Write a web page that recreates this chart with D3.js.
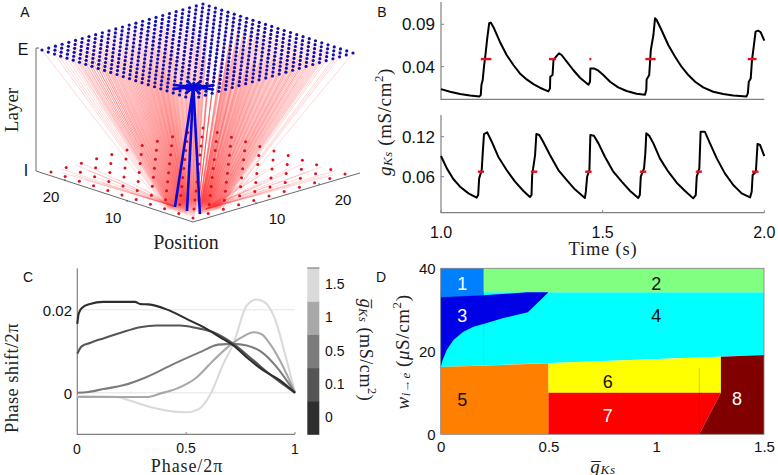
<!DOCTYPE html>
<html><head><meta charset="utf-8">
<script src="https://cdnjs.cloudflare.com/ajax/libs/d3/7.8.5/d3.min.js"></script>
<style>
html,body{margin:0;padding:0;background:#fff}
svg{display:block}
text{font-family:"Liberation Sans",Arial,sans-serif;fill:#111}
.serif{font-family:"Liberation Serif",serif;fill:#222}
</style></head><body>
<svg id="c" width="778" height="475"></svg>
<script>
// ---- Panel A data (lattice indices)
const blueIdx = d3.range(0,25);
const redIdx = d3.range(0,11);
const starOffsets = [[2,-1],[1,-2],[-2,1],[-1,2],[1,-1],[-1,1],[1,1],[-1,-1],[0,1],[0,-1],[1,0],[-1,0],[2,1],[1,2],[-2,-1],[-1,-2]];
const starCell = [3,3];
const thickEnds = [[1.86,.55],[1.0,.54],[.23,.67]];
const redFanLeft = [[10,.7],[10,1.6],[10,2],[9.5,.3],[9,.5],[9,1.5],[8,1],[8,.4],[7,.6],[7,1.5],[6,.8],[6,1.6],[5,.5],[5,1.4],[4,.6],[4,1.5],[3,.7],[3,1.3]];
const redFanRight = [[.7,10],[1.6,10],[2.6,9.8],[3.6,9.4],[.3,9.5],[.5,9],[1.5,9],[2.5,8.6],[1,8],[2,8],[3.2,7.8],[.6,7],[1.5,7],[2.6,6.8],[.8,6],[1.6,6],[2.4,5.6],[.5,5],[1.4,5],[.6,4],[1.5,4],[.7,3],[1.3,3]];
const redTargetLeft = [2,.6], redTargetRight = [.6,1.4];
const layerTicks = ["E","I"];
// ---- Panel B data
const topTrace = [[1,.0136],[1.028,.0105],[1.059,.0077],[1.09,.0061],[1.119,.005],[1.123,.0065],[1.125,.0183],[1.129,.0243],[1.133,.04],[1.138,.0557],[1.143,.0735],[1.149,.0912],[1.154,.092],[1.164,.0853],[1.182,.0695],[1.203,.0538],[1.224,.042],[1.244,.0321],[1.265,.025],[1.286,.0195],[1.306,.0152],[1.332,.0109],[1.337,.0144],[1.338,.0282],[1.345,.0302],[1.348,.0479],[1.356,.0518],[1.365,.0557],[1.373,.0538],[1.389,.0459],[1.409,.0361],[1.43,.027],[1.456,.0187],[1.461,.0223],[1.462,.038],[1.473,.038],[1.487,.0353],[1.502,.0302],[1.523,.0223],[1.548,.0156],[1.574,.0113],[1.605,.0081],[1.631,.0069],[1.635,.0124],[1.636,.025],[1.644,.0302],[1.649,.0597],[1.657,.0774],[1.662,.0971],[1.667,.0951],[1.682,.0833],[1.703,.0656],[1.724,.0518],[1.744,.04],[1.765,.0302],[1.786,.0223],[1.811,.0156],[1.842,.0105],[1.873,.0077],[1.904,.0061],[1.945,.005],[1.949,.0085],[1.952,.0223],[1.958,.0262],[1.962,.0479],[1.968,.0656],[1.973,.0813],[1.981,.0825],[1.989,.0806],[2,.0707]];
const bottomTrace = [[1,.091],[1.018,.0725],[1.038,.0565],[1.059,.045],[1.085,.035],[1.11,.0285],[1.115,.0325],[1.118,.0575],[1.126,.07],[1.129,.095],[1.133,.124],[1.143,.1265],[1.157,.1125],[1.177,.09],[1.203,.07],[1.229,.0525],[1.255,.0385],[1.275,.0295],[1.28,.0325],[1.282,.0625],[1.291,.0925],[1.295,.124],[1.304,.1225],[1.316,.1125],[1.337,.0925],[1.363,.07],[1.389,.055],[1.414,.041],[1.445,.028],[1.448,.0375],[1.452,.06],[1.459,.07],[1.462,.1225],[1.473,.1215],[1.487,.11],[1.507,.09],[1.533,.0675],[1.559,.0525],[1.585,.0385],[1.61,.028],[1.615,.0325],[1.618,.06],[1.628,.0725],[1.632,.095],[1.635,.125],[1.644,.1215],[1.657,.11],[1.677,.0875],[1.703,.0675],[1.729,.051],[1.755,.0385],[1.78,.0275],[1.788,.0325],[1.791,.06],[1.799,.0725],[1.803,.1275],[1.816,.1275],[1.832,.11],[1.853,.0875],[1.878,.065],[1.904,.0475],[1.93,.035],[1.956,.029],[1.961,.0375],[1.964,.0625],[1.974,.0675],[1.979,.109],[1.987,.1075],[2,.091]];
const topBursts = [[1.123,1.156],[1.334,1.356],[1.459,1.465],[1.632,1.664],[1.949,1.976]];
const bottomBursts = [[1.114,1.133],[1.278,1.298],[1.446,1.466],[1.615,1.635],[1.788,1.807],[1.962,1.982]];
const topBurstLevel = .049, bottomBurstLevel = .0675;
const topTicks = [.04,.09], bottomTicks = [.06,.12], timeTicks = [1,1.5,2];
// ---- Panel C data
const prc0 = [[0,.0166],[.006,.019],[.02,.0204],[.058,.0214],[.119,.0219],[.265,.0219],[.288,.0214],[.326,.0213],[.41,.0201],[.502,.0178],[.594,.0154],[.655,.0134],[.717,.0114],[.786,.0082],[.855,.0054],[.931,.003],[1,0]];
const prc01 = [[0,.0094],[.02,.0112],[.058,.012],[.119,.0131],[.196,.0144],[.288,.0158],[.364,.0162],[.472,.0162],[.548,.0156],[.625,.0146],[.717,.0118],[.809,.0078],[.9,.0038],[1,0]];
const prc05 = [[0,0],[.05,.0002],[.119,.0009],[.211,.0018],[.319,.0038],[.441,.0069],[.564,.0098],[.648,.0116],[.717,.0118],[.778,.0114],[.847,.0098],[.916,.0062],[1,0]];
const prc1 = [[0,-.001],[.089,-.001],[.319,-.001],[.38,-.0002],[.456,.001],[.548,.0037],[.625,.0078],[.717,.0121],[.763,.0136],[.809,.0146],[.847,.0141],[.885,.0118],[.931,.0078],[1,0]];
const prc15 = [[0,-.0008],[.181,-.001],[.242,-.0019],[.334,-.0034],[.456,-.0046],[.502,-.0047],[.556,-.004],[.609,-.0006],[.671,.007],[.717,.0118],[.778,.021],[.824,.0225],[.862,.0218],[.908,.0178],[.954,.0094],[1,0]];
const gLevels = ["0","0.1","0.5","1","1.5"];
const gGrays = ["#2e2e2e","#555555","#7c7c7c","#a8a8a8","#dadada"];
// ---- Panel D data
const regions = [
 {id:"4",c:"#00ffff",p:[[0,16.2],[1.5,19.1],[1.5,34.2],[0,34.2]]},
 {id:"1",c:"#0080ff",p:[[0,33],[.2,33],[.2,40],[0,40]]},
 {id:"2",c:"#80ff80",p:[[.2,34.2],[1.5,34.2],[1.5,40],[.2,40]]},
 {id:"3",c:"#0000e6",p:[[0,33],[.2,33.5],[.4,34.2],[.5,34.2],[.404,29.4],[.291,28],[.206,26.7],[.152,25.9],[.105,24.7],[.059,22.7],[.028,20.3],[.009,17.9],[0,16.2]]},
 {id:"5",c:"#ff8000",p:[[0,0],[.5,0],[.5,17.1],[0,16.2]]},
 {id:"6",c:"#ffff00",p:[[.5,10],[1.3,10],[1.3,18.7],[.5,17.1]]},
 {id:"7",c:"#ff0000",p:[[.5,0],[1.2,0],[1.3,10],[.5,10]]},
 {id:"8",c:"#800000",p:[[1.2,0],[1.5,0],[1.5,19.1],[1.3,18.7],[1.3,10]]}
];
const regionLabels = [["1",.1,36.2,"#fff"],["2",1,36.2,"#111"],["3",.1,28.6,"#fff"],["4",1,28.4,"#111"],["5",.1,8.3,"#111"],["6",.775,12.5,"#111"],["7",.775,4.5,"#fff"],["8",1.375,8.5,"#fff"]];
const dXTicks=[0,.5,1,1.5], dYTicks=[0,20,40];

const svg = d3.select("#c");
const AX="#808080";
function label(t,x,y,o={}){ return svg.append("text").attr("x",x).attr("y",y).attr("text-anchor",o.a||"middle").attr("dominant-baseline","central").attr("font-size",o.s||16).text(t); }
function mathLabel(transform,size,parts){
  const t=svg.append("text").attr("class","serif").attr("transform",transform).attr("text-anchor","middle").attr("dominant-baseline","central").attr("font-size",size).attr("letter-spacing",.6);
  parts.forEach(p=>{const s=t.append("tspan").text(p.t);
    if(p.i)s.attr("font-style","italic"); if(p.f)s.attr("font-size",size*p.f); if(p.dy)s.attr("dy",p.dy);});
  return t;
}

// ===== Panel A
const lat=(o,l,r,n)=>(a,b)=>[o[0]+(l[0]-o[0])*a/n+(r[0]-o[0])*b/n, o[1]+(l[1]-o[1])*a/n+(r[1]-o[1])*b/n];
const blueP = lat([192,99],[42,50],[353,53],24);
const redP = lat([193,218],[51,172],[345,174],10);
const A = svg.append("g");
A.append("path").attr("d",`M36,171L193,222L360,173M39,48L36,48L36,171`).attr("fill","none").attr("stroke","#444").attr("stroke-width",.8);
[[127,202],[65,181],[256,204],[319,185]].forEach(p=>A.append("path").attr("d",`M${p[0]},${p[1]}l0,-2`).attr("stroke","#444").attr("stroke-width",.8));
const fan=A.append("g").attr("stroke","#ff2020").attr("fill","none");
blueIdx.forEach(i=>blueIdx.forEach(j=>{
  const d=Math.abs(i-j), e=j-i;
  if(d>=20 && (i+j)%2===1) return;
  if(e>=2 && e<=3 && i<5) return;
  const s=blueP(i,j), t=redP(.1+i/24*2.1,.1+j/24*2.1);
  fan.append("line").attr("x1",s[0]).attr("y1",s[1]).attr("x2",t[0]).attr("y2",t[1])
     .attr("stroke-width",.9).attr("stroke-opacity",d<=4?.09:(d<=14?.15:.2));
}));
[[redFanLeft,redTargetLeft],[redFanRight,redTargetRight]].forEach(([src,tg])=>src.forEach(q=>{
  const s=redP(q[0],q[1]), t=redP(tg[0],tg[1]);
  A.append("line").attr("x1",s[0]).attr("y1",s[1]).attr("x2",t[0]).attr("y2",t[1]).attr("stroke","#ff2020").attr("stroke-width",.7).attr("stroke-opacity",.25);
}));
blueIdx.forEach(i=>blueIdx.forEach(j=>{const p=blueP(i,j);A.append("circle").attr("cx",p[0]).attr("cy",p[1]).attr("r",1.6).attr("fill","#1410b0");}));
redIdx.forEach(i=>redIdx.forEach(j=>{const p=redP(i,j);A.append("circle").attr("cx",p[0]).attr("cy",p[1]).attr("r",1.5).attr("fill","#dc1020");}));
const c=blueP(starCell[0],starCell[1]);
starOffsets.forEach(o=>{const p=blueP(starCell[0]+o[0],starCell[1]+o[1]);
  A.append("line").attr("x1",c[0]).attr("y1",c[1]).attr("x2",p[0]).attr("y2",p[1]).attr("stroke","#0808d8").attr("stroke-width",2.6);});
thickEnds.forEach(o=>{const p=redP(o[0],o[1]);
  A.append("line").attr("x1",c[0]).attr("y1",c[1]).attr("x2",p[0]).attr("y2",p[1]).attr("stroke","#0808d8").attr("stroke-width",2.6);});
label("A",25,12,{s:14});
label(layerTicks[0],23,49);label(layerTicks[1],26,170);
label("20",51,196,{s:15});label("10",113,217,{s:15});label("10",277,218,{s:15});label("20",343,199,{s:15});
label("Position",186,242,{s:20}).attr("class","serif");
label("Layer",11,110,{s:19}).attr("class","serif").attr("transform","rotate(-90 11 110)");

// ===== Panel B
const tx=d3.scaleLinear().domain([1,2]).range([441,764.3]);
const yTop=d3.scaleLinear().domain([.04,.09]).range([66.7,24.3]);
const yBot=d3.scaleLinear().domain([.06,.12]).range([176.7,136.7]);
const ln=(x,y)=>d3.line().x(d=>x(d[0])).y(d=>y(d[1]));
function bPanel(trace,bursts,lvl,y,ticks,base,top,showX){
  const g=svg.append("g");
  const ya=d3.axisLeft(y).tickValues(ticks).tickFormat(d3.format(".2f")).tickSize(0).tickPadding(6);
  const ag=g.append("g").attr("transform","translate(441,0)").call(ya);
  ag.select(".domain").remove();
  ag.selectAll("text").attr("font-size",17).attr("fill","#111");
  g.append("path").attr("d",`M441,${top}L441,${base}L764.3,${base}`).attr("fill","none").attr("stroke",AX).attr("stroke-width",1.2);
  ticks.forEach(t=>g.append("line").attr("x1",441).attr("x2",444).attr("y1",y(t)).attr("y2",y(t)).attr("stroke",AX));
  g.append("path").datum(trace).attr("d",ln(tx,y)).attr("fill","none").attr("stroke","#000").attr("stroke-width",2).attr("stroke-linejoin","round");
  bursts.forEach(b=>g.append("line").attr("x1",tx(b[0])).attr("x2",tx(b[1])).attr("y1",y(lvl)).attr("y2",y(lvl)).attr("stroke","#e8101c").attr("stroke-width",2.4));
  if(showX){
    timeTicks.forEach(t=>{g.append("line").attr("x1",tx(t)).attr("x2",tx(t)).attr("y1",base).attr("y2",base-2.5).attr("stroke",AX);
      label(d3.format(".1f")(t),tx(t),232,{s:16});});
  }
}
bPanel(topTrace,topBursts,topBurstLevel,yTop,topTicks,99.3,2,false);
bPanel(bottomTrace,bottomBursts,bottomBurstLevel,yBot,bottomTicks,212.7,115,true);
label("B",382,12,{s:14});
label("Time (s)",603,249,{s:18.5}).attr("class","serif").attr("letter-spacing",.8);
const ksParts=[{t:"g",i:1},{t:"Ks",i:1,f:.68,dy:3},{t:"  (mS/cm",dy:-3},{t:"2",f:.68,dy:-6},{t:")",dy:6}];
mathLabel("translate(384,122) rotate(-90)",19,ksParts);

// ===== Panel C
const px=d3.scaleLinear().domain([0,1]).range([77.3,295]);
const py=d3.scaleLinear().domain([-.01,.03]).range([434.3,268.3]);
[0,.02].forEach(v=>svg.append("line").attr("x1",px(0)).attr("x2",px(1)).attr("y1",py(v)).attr("y2",py(v)).attr("stroke","#e4e4e4"));
svg.append("path").attr("d",`M${px(0)},${py(.03)}L${px(0)},${py(-.01)}L${px(1)},${py(-.01)}`).attr("fill","none").attr("stroke",AX).attr("stroke-width",1.2);
[prc15,prc1,prc05,prc01,prc0].forEach((s,i)=>{
  svg.append("path").datum(s).attr("d",ln(px,py).curve(d3.curveMonotoneX)).attr("fill","none").attr("stroke",gGrays[4-i]).attr("stroke-width",2.1);
});
[.5,1].forEach(t=>svg.append("line").attr("x1",px(t)).attr("x2",px(t)).attr("y1",434.3).attr("y2",432).attr("stroke",AX));
label("C",28,277,{s:14});
label("0.02",72,310,{a:"end",s:15});label("0",72,393,{a:"end",s:15});
label("0",77,449,{s:14});label("0.5",186,448,{s:14});label("1",295,449,{s:14});
label("Phase/2π",187,466,{s:18}).attr("class","serif").attr("letter-spacing",.9);
label("Phase shift/2π",12,378,{s:18.5}).attr("class","serif").attr("letter-spacing",.4).attr("transform","rotate(-90 12 378)");
const cb=d3.scaleBand().domain(gLevels).range([434.3,268]);
gLevels.forEach((l,i)=>{svg.append("rect").attr("x",307.3).attr("width",12).attr("y",cb(l)).attr("height",cb.bandwidth()+.5).attr("fill",gGrays[i]);
  label(l,325,cb(l)+cb.bandwidth()/2-.5,{a:"start",s:14});});
svg.append("line").attr("x1",307.3).attr("x2",319.3).attr("y1",268).attr("y2",268).attr("stroke",AX).attr("stroke-width",1.2);
mathLabel("translate(366,350) rotate(90)",18,[{t:"g\u0305",i:1},{t:"Ks",i:1,f:.68,dy:3},{t:"  (mS/cm",dy:-3},{t:"2",f:.68,dy:-6},{t:")",dy:6}]);

// ===== Panel D
const dx=d3.scaleLinear().domain([0,1.5]).range([440.7,764]);
const dy=d3.scaleLinear().domain([0,40]).range([434.3,268.3]);
regions.forEach(r=>svg.append("polygon").attr("points",r.p.map(q=>[dx(q[0]),dy(q[1])].join(",")).join(" ")).attr("fill",r.c));
svg.append("line").attr("x1",dx(.2)).attr("x2",dx(.2)).attr("y1",dy(33.5)).attr("y2",dy(16.6)).attr("stroke","#000").attr("stroke-opacity",.07);
svg.append("line").attr("x1",dx(1.2)).attr("x2",dx(1.2)).attr("y1",dy(0)).attr("y2",dy(16)).attr("stroke","#000").attr("stroke-opacity",.2);
svg.append("rect").attr("x",dx(0)).attr("y",dy(40)).attr("width",dx(1.5)-dx(0)).attr("height",dy(0)-dy(40)).attr("fill","none").attr("stroke",AX).attr("stroke-width",.8);
regionLabels.forEach(l=>label(l[0],dx(l[1]),dy(l[2]),{s:18}).style("fill",l[3]));
const dya=svg.append("g").attr("transform","translate(440.7,0)").call(d3.axisLeft(dy).tickValues(dYTicks).tickSize(0).tickPadding(5));
dya.select(".domain").remove();dya.selectAll("text").attr("font-size",15).attr("fill","#111");
const dxa=svg.append("g").attr("transform","translate(0,434.3)").call(d3.axisBottom(dx).tickValues(dXTicks).tickFormat(d=>d).tickSize(0).tickPadding(7));
dxa.select(".domain").remove();dxa.selectAll("text").attr("font-size",15).attr("fill","#111");
label("D",381,277,{s:14});
mathLabel("translate(603,466)",19,[{t:"g\u0305",i:1},{t:"Ks",i:1,f:.7,dy:3}]);
mathLabel("translate(402,352) rotate(-90)",19,[{t:"w",i:1},{t:"i→e",i:1,f:.68,dy:3},{t:"  (",dy:-3},{t:"μ",i:1},{t:"S/cm"},{t:"2",f:.68,dy:-6},{t:")",dy:6}]);
</script></body></html>
